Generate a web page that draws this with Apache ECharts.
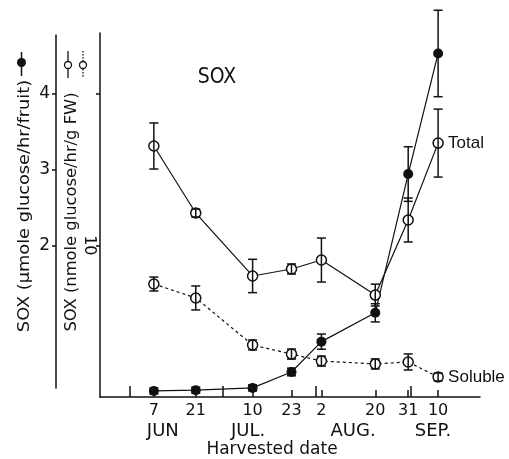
<!DOCTYPE html>
<html><head><meta charset="utf-8">
<script src="https://cdn.jsdelivr.net/npm/echarts@6/dist/echarts.min.js"></script>
<style>html,body{margin:0;padding:0;background:#fff}#c{width:509px;height:459px}</style>
</head><body><div id="c"></div>
<script>
// x positions: days counted from 1 June
const sampleDays = [6, 20, 39, 52, 62, 80, 91, 101];
const dayLabels = ['7', '21', '10', '23', '2', '20', '31', '10'];
const monthBoundaries = [-2, 29, 60, 92];
const monthLabelPos = [9, 37.5, 72.6, 99.3];
const monthLabels = ['JUN', 'JUL.', 'AUG.', 'SEP.'];
const fruitTicks = [2, 3, 4];
const fwTicks = [10, 20];
const fwTickLabels = [10];

// SOX per fruit (µmole glucose/hr/fruit) - filled circles
const fruitMean = [0.08, 0.09, 0.12, 0.33, 0.73, 1.11, 2.94, 4.53];
const fruitErr  = [0.04, 0.04, 0.04, 0.05, 0.10, 0.12, 0.36, 0.57];
// SOX per g FW (nmole glucose/hr/g FW) - open circles
const totalMean   = [16.55, 12.13, 7.98, 8.44, 9.03, 6.72, 11.67, 16.74];
const totalErr    = [1.52, 0.26, 1.10, 0.33, 1.45, 0.72, 1.45, 2.24];
const solubleMean = [7.45, 6.53, 3.43, 2.83, 2.37, 2.18, 2.31, 1.32];
const solubleErr  = [0.46, 0.79, 0.33, 0.33, 0.33, 0.33, 0.53, 0.26];

const INK = '#111';
const FONT = 'DejaVu Sans';
const pts = (ys) => sampleDays.map((d, i) => [d, ys[i]]);
const bars = (ys, es) => sampleDays.map((d, i) => [d, ys[i] - es[i], ys[i] + es[i]]);

// plot geometry: grid 0 spans y 33..397 for 0..4.8 (fruit scale);
// outer drawn axis spans y 35..388, so its range is the matching slice of that scale
const FRUIT_MAX = 4.8;
const PX_PER_UNIT = 364 / FRUIT_MAX;
const OUTER_MIN = (397 - 388) / PX_PER_UNIT;
const OUTER_MAX = (397 - 35) / PX_PER_UNIT;

function errRender(params, api) {
  const x = api.value(0);
  const a = api.coord([x, api.value(1)]);
  const b = api.coord([x, api.value(2)]);
  const w = 4.5;
  const st = { stroke: INK, lineWidth: 1.5 };
  return { type: 'group', children: [
    { type: 'line', shape: { x1: a[0], y1: a[1], x2: b[0], y2: b[1] }, style: st },
    { type: 'line', shape: { x1: a[0] - w, y1: a[1], x2: a[0] + w, y2: a[1] }, style: st },
    { type: 'line', shape: { x1: b[0] - w, y1: b[1], x2: b[0] + w, y2: b[1] }, style: st }
  ]};
}

const chart = echarts.init(document.getElementById('c'), null, { renderer: 'canvas' });
chart.setOption({
  animation: false,
  backgroundColor: '#fff',
  grid: [
    { left: 100, top: 33, right: 29, bottom: 62 },
    { left: 56, top: 35, width: 2, bottom: 71 }
  ],
  xAxis: [
    { gridIndex: 0, type: 'value', min: -12, max: 115, position: 'bottom',
      axisLine: { show: true, onZero: false, lineStyle: { color: INK, width: 1.5 } },
      axisTick: { show: true, inside: true, length: 7, customValues: sampleDays, lineStyle: { color: INK, width: 1.5 } },
      axisLabel: { show: true, customValues: sampleDays, margin: 6,
        formatter: (v) => dayLabels[sampleDays.indexOf(v)],
        color: INK, fontFamily: FONT, fontSize: 16 },
      splitLine: { show: false } },
    { gridIndex: 0, type: 'value', min: -12, max: 115, position: 'bottom', offset: 0,
      axisLine: { show: false, onZero: false },
      axisTick: { show: true, inside: true, length: 11, customValues: monthBoundaries, lineStyle: { color: INK, width: 1.5 } },
      axisLabel: { show: true, customValues: monthLabelPos, margin: 25,
        formatter: (v) => monthLabels[monthLabelPos.indexOf(v)],
        color: INK, fontFamily: FONT, fontSize: 18 },
      splitLine: { show: false } },
    { gridIndex: 1, type: 'value', min: 0, max: 1, show: false, axisLine: { onZero: false } }
  ],
  yAxis: [
    { gridIndex: 0, type: 'value', min: 0, max: 24, position: 'left',
      axisLine: { show: true, onZero: false, lineStyle: { color: INK, width: 1.5 } },
      axisTick: { show: true, length: 4, customValues: fwTicks, lineStyle: { color: INK, width: 1.5 } },
      axisLabel: { show: true, customValues: fwTickLabels, rotate: -90, margin: 3,
        color: INK, fontFamily: FONT, fontSize: 16 },
      splitLine: { show: false } },
    { gridIndex: 0, type: 'value', min: 0, max: FRUIT_MAX, position: 'left', show: false,
      axisLine: { onZero: false } },
    { gridIndex: 1, type: 'value', min: OUTER_MIN, max: OUTER_MAX, position: 'left',
      axisLine: { show: true, onZero: false, lineStyle: { color: INK, width: 1.5 } },
      axisTick: { show: true, length: 4, customValues: fruitTicks, lineStyle: { color: INK, width: 1.5 } },
      axisLabel: { show: true, customValues: fruitTicks, margin: 6,
        color: INK, fontFamily: FONT, fontSize: 17 },
      splitLine: { show: false } }
  ],
  series: [
    { name: 'Total', type: 'line', xAxisIndex: 0, yAxisIndex: 0, data: pts(totalMean),
      symbol: 'circle', symbolSize: 10,
      itemStyle: { color: '#fff', borderColor: INK, borderWidth: 1.5 },
      lineStyle: { color: INK, width: 1.2 },
      endLabel: { show: true, formatter: 'Total', distance: 10, color: INK,
        fontFamily: 'Liberation Sans', fontSize: 17 } },
    { name: 'Soluble', type: 'line', xAxisIndex: 0, yAxisIndex: 0, data: pts(solubleMean),
      symbol: 'circle', symbolSize: 10,
      itemStyle: { color: '#fff', borderColor: INK, borderWidth: 1.5 },
      lineStyle: { color: INK, width: 1.2, type: [3, 3] },
      endLabel: { show: true, formatter: 'Soluble', distance: 10, color: INK,
        fontFamily: 'Liberation Sans', fontSize: 17 } },
    { name: 'Fruit', type: 'line', xAxisIndex: 0, yAxisIndex: 1, data: pts(fruitMean),
      symbol: 'circle', symbolSize: 10,
      itemStyle: { color: INK },
      lineStyle: { color: INK, width: 1.2 } },
    { type: 'custom', xAxisIndex: 0, yAxisIndex: 0, z: 5, renderItem: errRender, data: bars(totalMean, totalErr) },
    { type: 'custom', xAxisIndex: 0, yAxisIndex: 0, z: 5, renderItem: errRender, data: bars(solubleMean, solubleErr) },
    { type: 'custom', xAxisIndex: 0, yAxisIndex: 1, z: 5, renderItem: errRender, data: bars(fruitMean, fruitErr) }
  ],
  graphic: [
    { type: 'text', x: 217, y: 77, scaleX: 0.9, scaleY: 1.05,
      style: { text: 'SOX', font: '21px "DejaVu Sans"', fill: INK, align: 'center', verticalAlign: 'middle' } },
    { type: 'text', x: 272, y: 450,
      style: { text: 'Harvested date', font: '17px "DejaVu Sans"', fill: INK, align: 'center', verticalAlign: 'middle' } },
    { type: 'text', x: 25, y: 206, rotation: Math.PI / 2, scaleX: 1.11,
      style: { text: 'SOX (\u00b5mole glucose/hr/fruit)', font: '16px "DejaVu Sans"', fill: INK, align: 'center', verticalAlign: 'middle' } },
    { type: 'text', x: 72, y: 212, rotation: Math.PI / 2, scaleX: 1.02,
      style: { text: 'SOX (nmole glucose/hr/g FW)', font: '16px "DejaVu Sans"', fill: INK, align: 'center', verticalAlign: 'middle' } },
    // legend glyphs
    { type: 'line', shape: { x1: 21.5, y1: 52, x2: 21.5, y2: 76 }, style: { stroke: INK, lineWidth: 1.5 } },
    { type: 'circle', shape: { cx: 21.5, cy: 62.5, r: 4.5 }, style: { fill: INK } },
    { type: 'line', shape: { x1: 68, y1: 51, x2: 68, y2: 78 }, style: { stroke: INK, lineWidth: 1.3 } },
    { type: 'circle', shape: { cx: 68, cy: 65, r: 3.5 }, style: { fill: '#fff', stroke: INK, lineWidth: 1.3 } },
    { type: 'line', shape: { x1: 83, y1: 51, x2: 83, y2: 78 }, style: { stroke: INK, lineWidth: 1.3, lineDash: [1.5, 1.5] } },
    { type: 'circle', shape: { cx: 83, cy: 65, r: 3.5 }, style: { fill: '#fff', stroke: INK, lineWidth: 1.3 } }
  ]
});
</script>
</body></html>
